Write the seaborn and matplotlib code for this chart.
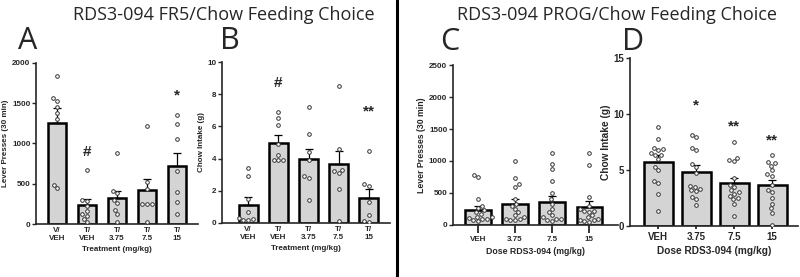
import numpy as np
import pandas as pd
import matplotlib
matplotlib.use("Agg")
import matplotlib.pyplot as plt
import seaborn as sns

sns.set_style("ticks")
plt.rcParams['font.family'] = ['Liberation Sans', 'DejaVu Sans']

# ---- panel A: FR5 lever presses ----
a_labels = ["V/\nVEH", "T/\nVEH", "T/\n3.75", "T/\n7.5", "T/\n15"]
a_means = [1260, 235, 320, 425, 715]
a_sem = [185, 70, 90, 130, 165]
a_points = [
    [1840, 1560, 1530, 1450, 1380, 1300, 490, 450],
    [675, 300, 290, 220, 160, 120, 100, 60, 20],
    [880, 410, 380, 300, 260, 180, 130, 30],
    [1220, 520, 440, 250, 250, 250, 20],
    [1360, 1240, 1050, 660, 400, 270, 120],
]
a_marks = {1: ("#", 900), 4: ("*", 1600)}

# ---- panel B: FR5 chow intake ----
b_labels = a_labels
b_means = [1.1, 5.0, 3.95, 3.65, 1.55]
b_sem = [0.5, 0.45, 0.65, 0.85, 0.55]
b_points = [
    [3.4, 2.9, 1.5, 0.7, 0.3, 0.25, 0.2, 0.2],
    [6.9, 6.5, 6.1, 4.9, 4.2, 3.9, 3.9, 3.9],
    [7.2, 5.5, 4.4, 3.9, 2.9, 2.8, 1.4],
    [8.5, 4.6, 3.3, 3.2, 3.1, 2.1, 0.1],
    [4.5, 2.4, 2.3, 1.3, 0.5, 0.1, 0.05],
]
b_marks = {1: ("#", 8.7), 4: ("**", 6.9)}

# ---- panel C: PROG lever presses ----
c_labels = ["VEH", "3.75", "7.5", "15"]
c_means = [240, 325, 365, 285]
c_sem = [60, 75, 90, 85]
c_points = [
    [780, 750, 400, 300, 270, 230, 200, 170, 130, 120, 110, 100, 90, 80, 60],
    [1000, 730, 640, 600, 410, 320, 300, 250, 200, 150, 130, 100, 90, 80, 70],
    [1130, 950, 870, 690, 500, 400, 330, 250, 200, 150, 120, 100, 90, 80, 60],
    [1120, 930, 440, 300, 250, 220, 210, 200, 150, 120, 100, 80, 70, 60, 50],
]

# ---- panel D: PROG chow intake ----
d_labels = c_labels
d_means = [5.75, 4.85, 3.8, 3.65]
d_sem = [0.55, 0.6, 0.5, 0.45]
d_points = [
    [8.8, 7.8, 7.0, 6.9, 6.8, 6.5, 6.3, 6.3, 6.0, 5.3, 5.0, 4.0, 3.8, 2.9, 1.3],
    [8.1, 7.9, 7.0, 6.8, 5.5, 5.3, 4.7, 3.6, 3.5, 3.3, 3.2, 3.1, 2.6, 2.4, 1.9],
    [7.5, 6.1, 5.9, 5.8, 4.3, 3.7, 3.5, 3.2, 3.0, 2.9, 2.7, 2.5, 2.4, 2.0, 0.9],
    [6.3, 5.7, 5.6, 5.4, 5.0, 4.6, 4.5, 3.7, 3.2, 3.0, 2.5, 2.0, 1.6, 1.2, 0.1],
]
d_marks = {1: ("*", 10.8), 2: ("**", 8.9), 3: ("**", 7.6)}


def draw_panel(ax, labels, means, sem, points, marks, width, fs, ylim, yticks,
               xlim, ylabel, xlabel, lfs, tick_len):
    bars = pd.DataFrame({"group": labels, "mean": means})
    pts = pd.DataFrame({"group": [labels[i] for i, p in enumerate(points) for _ in p],
                        "value": [v for p in points for v in p]})
    sns.barplot(data=bars, x="group", y="mean", order=labels, color="#d4d4d4",
                edgecolor="black", linewidth=1.8, width=width, errorbar=None, ax=ax,
                zorder=1)
    ax.errorbar(range(len(labels)), means, yerr=[np.zeros(len(sem)), sem], fmt="none",
                ecolor="black", elinewidth=0.9, capsize=3, capthick=0.9, zorder=3)
    sns.swarmplot(data=pts, x="group", y="value", order=labels, color="white",
                  edgecolor="#333333", linewidth=0.7, size=2.6, ax=ax, zorder=4)
    for i, (txt, y) in marks.items():
        ax.text(i, y, txt, ha="center", va="center", fontsize=11, fontweight="bold")
    ax.set_ylim(*ylim)
    ax.set_yticks(yticks)
    ax.set_xlim(*xlim)
    ax.set_ylabel(ylabel, fontsize=lfs, fontweight="bold", labelpad=2)
    ax.set_xlabel(xlabel, fontsize=lfs, fontweight="bold", labelpad=3)
    ax.tick_params(axis="y", labelsize=fs, width=1, length=3, pad=1)
    ax.tick_params(axis="x", labelsize=fs, width=1.3, length=tick_len, pad=2)
    for lab in ax.get_xticklabels() + ax.get_yticklabels():
        lab.set_fontweight("bold")
    sns.despine(ax=ax)
    for s in ["left", "bottom"]:
        ax.spines[s].set_linewidth(1.2)


fig = plt.figure(figsize=(8, 2.77), dpi=100)

axA = fig.add_axes([0.045, 0.1913, 0.2025, 0.5813])
draw_panel(axA, a_labels, a_means, a_sem, a_points, a_marks, 0.63, 5.8,
           (0, 2000), [0, 500, 1000, 1500, 2000], (-0.7, 4.7),
           "Lever Presses (30 min)", "Treatment (mg/kg)", 5.8, 0)

axB = fig.add_axes([0.2775, 0.195, 0.21, 0.581])
draw_panel(axB, b_labels, b_means, b_sem, b_points, b_marks, 0.63, 5.8,
           (0, 10), [0, 2, 4, 6, 8, 10], (-0.87, 4.7),
           "Chow Intake (g)", "Treatment (mg/kg)", 5.8, 0)

axC = fig.add_axes([0.566, 0.188, 0.2065, 0.577])
draw_panel(axC, c_labels, c_means, c_sem, c_points, {}, 0.68, 5.8,
           (0, 2500), [0, 500, 1000, 1500, 2000, 2500], (-0.68, 3.78),
           "Lever Presses (30 min)", "Dose RDS3-094 (mg/kg)", 6.3, 6)

axD = fig.add_axes([0.7875, 0.184, 0.21, 0.607])
draw_panel(axD, d_labels, d_means, d_sem, d_points, d_marks, 0.76, 7,
           (0, 15), [0, 5, 10, 15], (-0.74, 3.68),
           "Chow Intake (g)", "Dose RDS3-094 (mg/kg)", 7.3, 2)

fig.text(0.28, 0.945, "RDS3-094 FR5/Chow Feeding Choice", ha="center", va="center",
         fontsize=13, family="Open Sans")
fig.text(0.771, 0.945, "RDS3-094 PROG/Chow Feeding Choice", ha="center", va="center",
         fontsize=13, family="Open Sans")
for x, y, t in [(0.034, 0.852, "A"), (0.2875, 0.852, "B"), (0.5625, 0.848, "C"), (0.791, 0.848, "D")]:
    fig.text(x, y, t, ha="center", va="center", fontsize=22, family="Open Sans")

fig.add_artist(plt.Line2D([0.4962, 0.4962], [0.0, 1.0], color="black", linewidth=2.2))

fig.savefig("out.png", dpi=100)
